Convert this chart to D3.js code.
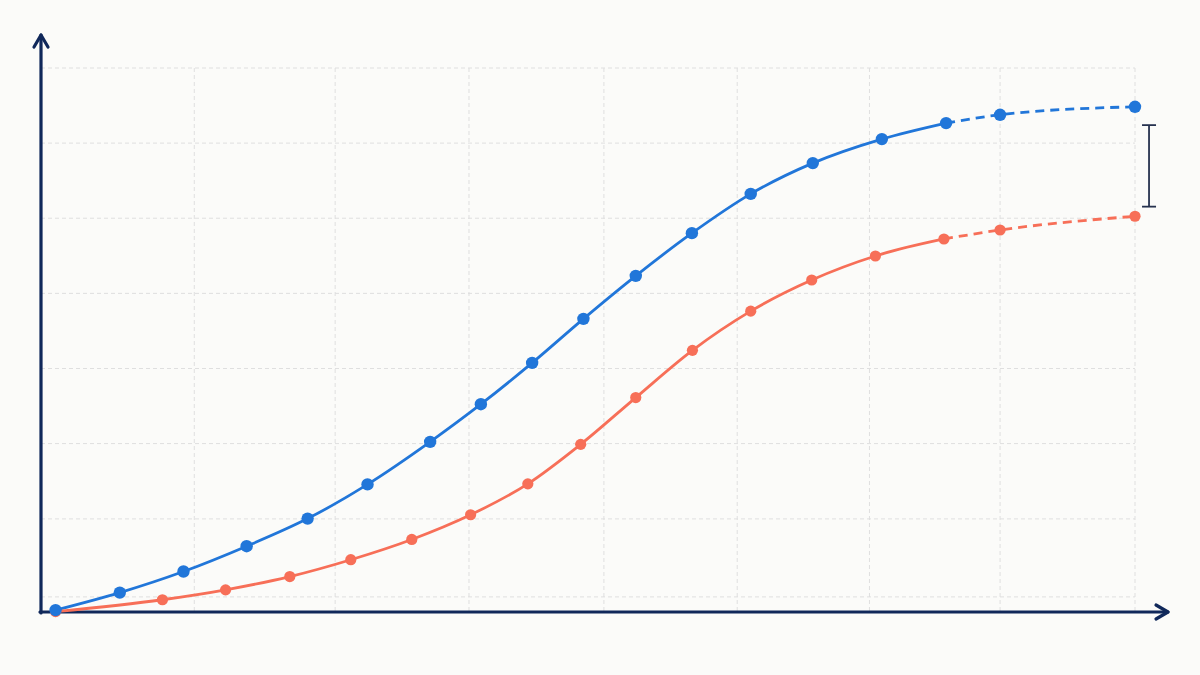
<!DOCTYPE html>
<html>
<head>
<meta charset="utf-8">
<script src="https://cdn.jsdelivr.net/npm/d3@7"></script>
<style>
  html, body { margin: 0; padding: 0; background: #fbfbf9; }
  svg { display: block; }
</style>
</head>
<body>
<svg id="chart"></svg>
<script>
// values
const blueX = [0, 1.19, 2.37, 3.54, 4.67, 5.78, 6.94, 7.88, 8.83, 9.78, 10.75, 11.79, 12.88, 14.03, 15.31, 16.5, 17.5, 20]
const blueY = [0.025, 0.257, 0.536, 0.871, 1.236, 1.689, 2.252, 2.75, 3.297, 3.88, 4.449, 5.014, 5.534, 5.941, 6.259, 6.471, 6.581, 6.687]
const orangeX = [0, 1.98, 3.15, 4.34, 5.47, 6.6, 7.69, 8.75, 9.73, 10.75, 11.8, 12.88, 14.01, 15.19, 16.46, 17.5, 20]
const orangeY = [0.005, 0.162, 0.293, 0.469, 0.692, 0.96, 1.287, 1.696, 2.219, 2.838, 3.463, 3.982, 4.394, 4.712, 4.937, 5.056, 5.238]
// the last few points of each series are projected (dashed)
const projectedCount = 3
const xGrid = [2.57, 5.18, 7.66, 10.16, 12.63, 15.08, 17.5, 20]
const yGrid = [0.2, 1.232, 2.229, 3.223, 4.217, 5.212, 6.206, 7.2]
const gapBar = {x: 20.26, low: 5.365, high: 6.444}

const width = 1200, height = 675
const margin = {top: 68, right: 65, bottom: 63, left: 41}

const svg = d3.select('#chart')
  .attr('width', width)
  .attr('height', height)

const x = d3.scaleLinear()
  .domain([-0.27, 20])
  .range([margin.left, width - margin.right])

const y = d3.scaleLinear()
  .domain([0, 7.2])
  .range([height - margin.bottom, margin.top])

const x0 = x.range()[0], y0 = y.range()[0]

// grid
svg.append('g')
  .selectAll('line')
  .data(yGrid)
  .join('line')
    .attr('x1', x0)
    .attr('x2', x(20))
    .attr('y1', d => y(d))
    .attr('y2', d => y(d))
    .attr('stroke', '#dfdfdf')
    .attr('stroke-width', 1)
    .attr('stroke-dasharray', '4,3')

svg.append('g')
  .selectAll('line')
  .data(xGrid)
  .join('line')
    .attr('x1', d => x(d))
    .attr('x2', d => x(d))
    .attr('y1', y(7.2))
    .attr('y2', y0)
    .attr('stroke', '#dfdfdf')
    .attr('stroke-width', 1)
    .attr('stroke-dasharray', '4,3')

// axes with open arrow heads
const axisColor = '#10285a'
const axes = svg.append('g')
  .attr('stroke', axisColor)
  .attr('stroke-width', 3.2)
  .attr('fill', 'none')
  .attr('stroke-linecap', 'round')
  .attr('stroke-linejoin', 'round')

axes.append('path').attr('d', `M${x0},${y0 + 1} V35`)
axes.append('path').attr('d', `M${x0 - 7},47 L${x0},35 L${x0 + 7},47`)
axes.append('path').attr('d', `M${x0 - 1},${y0} H1168`)
axes.append('path').attr('d', `M1156,${y0 - 7} L1168,${y0} L1156,${y0 + 7}`)

// series
const series = [
  {xs: blueX, ys: blueY, color: '#2176d9', r: 6.2},
  {xs: orangeX, ys: orangeY, color: '#f76f58', r: 5.6}
]

const line = d3.line()
  .x(d => x(d.x))
  .y(d => y(d.y))
  .curve(d3.curveMonotoneX)

series.forEach(s => {
  const pts = s.xs.map((v, i) => ({x: v, y: s.ys[i]}))
  const split = pts.length - projectedCount
  const solid = pts.slice(0, split + 1)
  const dashed = pts.slice(split)

  svg.append('path')
    .datum(solid)
    .attr('fill', 'none')
    .attr('stroke', s.color)
    .attr('stroke-width', 2.8)
    .attr('d', line)

  svg.append('path')
    .datum(dashed)
    .attr('fill', 'none')
    .attr('stroke', s.color)
    .attr('stroke-width', 2.8)
    .attr('stroke-dasharray', '9,6')
    .attr('d', line)

  s.pts = pts
})

// points drawn after lines, blue last so it sits on top at origin
series.slice().reverse().forEach(s => {
  svg.append('g')
    .selectAll('circle')
    .data(s.pts)
    .join('circle')
      .attr('cx', d => x(d.x))
      .attr('cy', d => y(d.y))
      .attr('r', s.r)
      .attr('fill', s.color)
})

// gap bracket at the right end
const bar = svg.append('g')
  .attr('stroke', '#26324f')
  .attr('stroke-width', 1.8)
bar.append('line')
  .attr('x1', x(gapBar.x)).attr('x2', x(gapBar.x))
  .attr('y1', y(gapBar.high)).attr('y2', y(gapBar.low))
bar.append('line')
  .attr('x1', x(gapBar.x) - 7).attr('x2', x(gapBar.x) + 7)
  .attr('y1', y(gapBar.high)).attr('y2', y(gapBar.high))
bar.append('line')
  .attr('x1', x(gapBar.x) - 7).attr('x2', x(gapBar.x) + 7)
  .attr('y1', y(gapBar.low)).attr('y2', y(gapBar.low))
</script>
</body>
</html>
